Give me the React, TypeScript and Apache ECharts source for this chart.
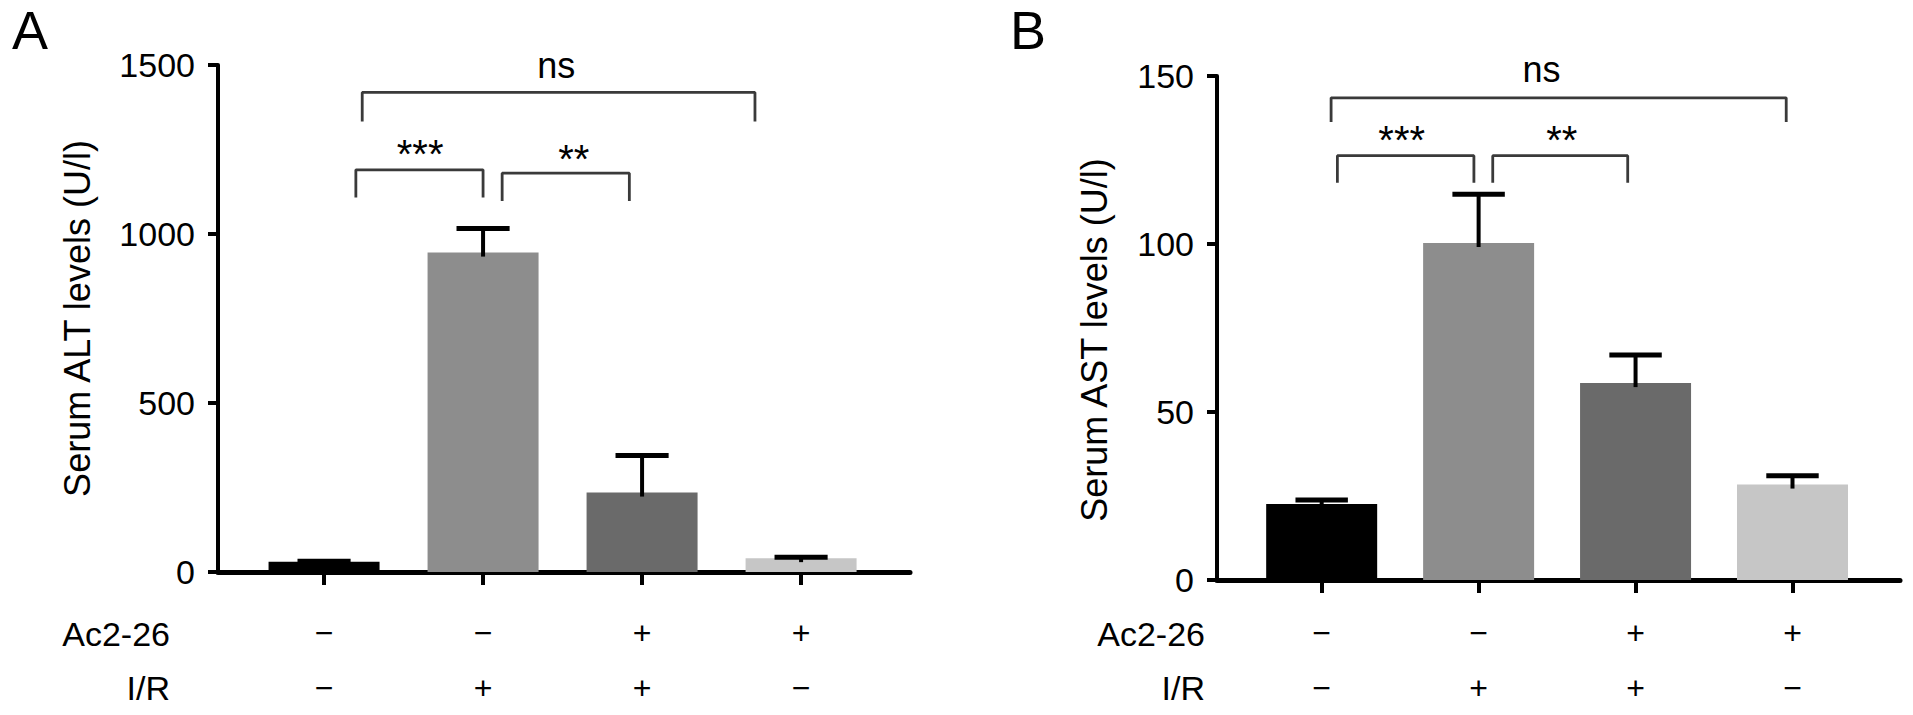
import React, { useEffect, useRef } from 'react';
import * as echarts from 'echarts';

const groups = ['Control', 'I/R', 'Ac2-26 + I/R', 'Ac2-26'];
const groupPos = [0, 1, 2, 3];
const ac226Row = ['\u2212', '\u2212', '+', '+'];
const irRow = ['\u2212', '+', '+', '\u2212'];
const barColors = ['#000000', '#8d8d8d', '#6a6a6a', '#c6c6c6'];

const altMean = [30, 945, 235, 41];
const altSem = [2, 71, 110, 3];
const astMean = [22.6, 100.3, 58.6, 28.4];
const astSem = [1.2, 14.5, 8.4, 2.6];

// significance brackets: [left group pos, right group pos, top value, leg-end value]
const altBrackets = [
  [0.24, 2.71, 1419, 1333],
  [0.2, 1.0, 1190, 1108],
  [1.12, 1.92, 1180, 1098],
];
const altMarks: [string, number, number][] = [
  ['ns', 1.46, 1500],
  ['***', 0.604, 1236],
  ['**', 1.57, 1221],
];
const astBrackets = [
  [0.06, 2.96, 143.5, 136.3],
  [0.1, 0.97, 126.3, 118.2],
  [1.09, 1.95, 126.3, 118.2],
];
const astMarks: [string, number, number][] = [
  ['ns', 1.4, 152],
  ['***', 0.51, 131],
  ['**', 1.53, 131],
];

const FONT = '"Liberation Sans", Arial, Helvetica, sans-serif';

function errorRender(capHalf: number) {
  return (params: any, api: any) => {
    const x = api.value(0);
    const m = api.value(1);
    const t = api.value(2);
    const base = api.coord([x, m]);
    const top = api.coord([x, t]);
    const l = api.coord([x - capHalf, t]);
    const r = api.coord([x + capHalf, t]);
    return {
      type: 'group',
      children: [
        { type: 'line', shape: { x1: base[0], y1: base[1] + 4, x2: top[0], y2: top[1] }, style: { stroke: '#000', lineWidth: 4 } },
        { type: 'line', shape: { x1: l[0], y1: l[1], x2: r[0], y2: r[1] }, style: { stroke: '#000', lineWidth: 5 } },
      ],
    };
  };
}

function markRender(marks: [string, number, number][]) {
  return (params: any, api: any) => {
    const p = api.coord([api.value(0), api.value(1)]);
    const text = marks[params.dataIndex][0];
    const isStar = text.indexOf('*') >= 0;
    return {
      type: 'text',
      x: p[0],
      y: p[1],
      style: {
        text,
        fill: '#000',
        fontSize: isStar ? 40 : 36,
        fontFamily: FONT,
        align: 'center',
        verticalAlign: 'middle',
        textAlign: 'center',
        textVerticalAlign: 'middle',
      },
    };
  };
}

function panelSeries(idx: number, mean: number[], sem: number[], brackets: number[][], marks: [string, number, number][]) {
  const s: any[] = [];
  s.push({
    type: 'bar',
    xAxisIndex: idx,
    yAxisIndex: idx,
    barWidth: 111,
    data: mean.map((v, i) => ({ name: groups[i], value: [groupPos[i], v], itemStyle: { color: barColors[i] } })),
  });
  s.push({
    type: 'custom',
    xAxisIndex: idx,
    yAxisIndex: idx,
    renderItem: errorRender(0.167),
    data: mean.map((v, i) => [groupPos[i], v, v + sem[i]]),
    z: 5,
  });
  brackets.forEach((b) => {
    s.push({
      type: 'line',
      xAxisIndex: idx,
      yAxisIndex: idx,
      symbol: 'none',
      lineStyle: { color: '#3a3a3a', width: 2.8 },
      data: [[b[0], b[3]], [b[0], b[2]], [b[1], b[2]], [b[1], b[3]]],
    });
  });
  s.push({
    type: 'custom',
    xAxisIndex: idx,
    yAxisIndex: idx,
    renderItem: markRender(marks),
    data: marks.map((m) => [m[1], m[2]]),
    clip: false,
  });
  return s;
}

function xAxisFor(grid: number, margin: number) {
  return {
    type: 'value',
    gridIndex: grid,
    min: -0.667,
    max: 3.685,
    splitLine: { show: false },
    axisLine: { show: true, onZero: false, lineStyle: { color: '#000', width: 5 } },
    axisTick: { show: true, customValues: groupPos, length: 13, lineStyle: { color: '#000', width: 4 } },
    axisLabel: {
      show: true,
      customValues: groupPos,
      margin,
      color: '#000',
      fontSize: 32,
      fontFamily: FONT,
      lineHeight: 55,
      formatter: (v: number) => {
        const i = groupPos.indexOf(Math.round(v));
        return i < 0 ? '' : ac226Row[i] + '\n' + irRow[i];
      },
    },
  };
}

function yAxisFor(grid: number, max: number, interval: number, name: string, gap: number, shiftDown: number) {
  return {
    type: 'value',
    gridIndex: grid,
    min: 0,
    max,
    interval,
    splitLine: { show: false },
    axisLine: { show: true, onZero: false, lineStyle: { color: '#000', width: 4 } },
    axisTick: { show: true, length: 10, lineStyle: { color: '#000', width: 4 } },
    axisLabel: { color: '#000', fontSize: 34, fontFamily: FONT, margin: 23, formatter: (v: number) => String(v) },
    name,
    nameLocation: 'middle',
    nameGap: gap,
    nameTextStyle: { color: '#000', fontSize: 36, fontFamily: FONT, padding: [0, shiftDown * 2, 0, 0] },
  };
}

function rowLabel(x: number, y: number, text: string) {
  return {
    type: 'text',
    x,
    y,
    style: { text, fill: '#000', fontSize: 34, fontFamily: FONT, align: 'right', verticalAlign: 'middle', textAlign: 'right', textVerticalAlign: 'middle' },
  };
}

export default function App() {
  const ref = useRef<HTMLDivElement>(null);
  useEffect(() => {
    document.body.style.margin = '0';
    if (!ref.current) return;
    const chart = echarts.init(ref.current, undefined, { renderer: 'svg' });
    chart.setOption({
      animation: false,
      backgroundColor: '#fff',
      grid: [
        { left: 218, right: 1003, top: 65, bottom: 139 },
        { left: 1217, right: 13, top: 76, bottom: 129 },
      ],
      xAxis: [xAxisFor(0, 33), xAxisFor(1, 25)],
      yAxis: [
        yAxisFor(0, 1500, 500, 'Serum ALT levels (U/l)', 123, 0),
        yAxisFor(1, 150, 50, 'Serum AST levels (U/l)', 105, 12),
      ],
      series: [
        ...panelSeries(0, altMean, altSem, altBrackets, altMarks),
        ...panelSeries(1, astMean, astSem, astBrackets, astMarks),
      ],
      graphic: [
        { type: 'text', x: 12, y: 3, style: { text: 'A', fill: '#000', fontSize: 54, fontFamily: FONT } },
        { type: 'text', x: 1010, y: 3, style: { text: 'B', fill: '#000', fontSize: 54, fontFamily: FONT } },
        rowLabel(170, 634, 'Ac2-26'),
        rowLabel(170, 688, 'I/R'),
        rowLabel(1205, 634, 'Ac2-26'),
        rowLabel(1205, 688, 'I/R'),
      ],
    });
    return () => chart.dispose();
  }, []);
  return <div ref={ref} style={{ width: 1913, height: 715 }} />;
}
